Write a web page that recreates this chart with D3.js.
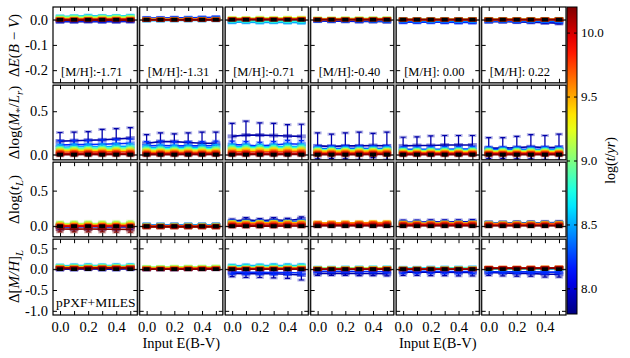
<!DOCTYPE html>
<html>
<head>
<meta charset="utf-8">
<script src="https://d3js.org/d3.v7.min.js"></script>
<style>
  body { margin: 0; background: #fff; }
  text { font-family: "Liberation Serif", "DejaVu Serif", serif; }
</style>
</head>
<body>
<div id="chart"></div>
<script>
// ages (log t/yr) of the model populations, one coloured series each
var ages = [7.9, 8.2, 8.5, 8.8, 9.1, 9.4, 9.7, 10.0, 10.2];
var ebvIn = [0, 0.1, 0.2, 0.3, 0.4, 0.5];
var mhLabels = ["[M/H]:-1.71", "[M/H]:-1.31", "[M/H]:-0.71", "[M/H]:-0.40", "[M/H]: 0.00", "[M/H]: 0.22"];
var cbTicks = [8.0, 8.5, 9.0, 9.5, 10.0];

// row 1: delta E(B-V), [column][age] -> 6 values
var dEBV = [
  [[-0.008,-0.008,-0.007,-0.008,-0.008,-0.007],[-0.005,-0.005,-0.004,-0.005,-0.005,-0.004],[0.012,0.013,0.015,0.014,0.014,0.015],
   [0.011,0.012,0.012,0.012,0.013,0.013],[0.008,0.009,0.009,0.01,0.01,0.01],[0.004,0.004,0.005,0.005,0.005,0.005],
   [0.002,0.002,0.002,0.003,0.003,0.003],[0,0,0.001,0,0.001,0.001],[-0.002,-0.002,-0.002,-0.001,-0.002,-0.002]],
  [[0.004,0.004,0.005,0.005,0.006,0.007],[0.006,0.006,0.007,0.007,0.008,0.009],[-0.004,-0.004,-0.003,-0.003,-0.003,-0.002],
   [0.002,0.002,0.002,0.003,0.003,0.003],[0.001,0.001,0.002,0.002,0.002,0.002],[0.001,0.001,0.001,0.001,0.001,0.002],
   [0,0,0,0.001,0.001,0.001],[0,0,0,0,0,0],[-0.001,-0.001,-0.001,-0.001,-0.001,-0.001]],
  [[-0.004,-0.004,-0.004,-0.005,-0.005,-0.004],[-0.008,-0.007,-0.008,-0.008,-0.009,-0.009],[-0.01,-0.01,-0.011,-0.01,-0.011,-0.012],
   [-0.005,-0.005,-0.006,-0.006,-0.006,-0.006],[0.006,0.006,0.007,0.006,0.007,0.007],[0.004,0.004,0.004,0.004,0.005,0.005],
   [0.002,0.002,0.002,0.002,0.002,0.003],[0.001,0.001,0.001,0.001,0.001,0.001],[0,0,0,0,0,0]],
  [[-0.005,-0.006,-0.006,-0.007,-0.007,-0.008],[-0.004,-0.004,-0.004,-0.005,-0.005,-0.005],[-0.002,-0.002,-0.002,-0.002,-0.003,-0.003],
   [0.002,0.002,0.002,0.002,0.003,0.003],[0.004,0.004,0.005,0.005,0.005,0.005],[0.003,0.003,0.003,0.003,0.003,0.003],
   [0.001,0.001,0.001,0.001,0.002,0.002],[0,0,0,0,0,0.001],[0,0,0,0,0,0]],
  [[-0.008,-0.008,-0.008,-0.009,-0.009,-0.009],[-0.01,-0.01,-0.01,-0.01,-0.011,-0.011],[-0.004,-0.004,-0.005,-0.004,-0.005,-0.005],
   [0.002,0.002,0.002,0.002,0.002,0.002],[0.001,0.001,0.001,0.001,0.001,0.001],[0,0,0,0.001,0.001,0.001],
   [0,0,0,0,0,0],[0,0,0,0,0,0],[0,0,0,0,0,0]],
  [[-0.008,-0.008,-0.009,-0.01,-0.012,-0.014],[-0.006,-0.006,-0.007,-0.007,-0.008,-0.009],[-0.003,-0.003,-0.003,-0.004,-0.004,-0.004],
   [0.001,0.001,0.001,0.001,0.001,0.002],[0.002,0.002,0.002,0.002,0.002,0.002],[0.001,0.001,0.001,0.001,0.001,0.001],
   [0,0,0,0,0.001,0.001],[0,0,0,0,0,0],[0,0,0,0,0,0]]
];
var dEBVerr = [0.003, 0.003, 0.003, 0.003, 0.003, 0.003];

// row 2: delta log(M*/L_r)
var dML = [
  [[0.155,0.16,0.165,0.17,0.18,0.19],[0.11,0.115,0.115,0.12,0.125,0.13],[0.085,0.09,0.09,0.09,0.095,0.095],
   [0.07,0.072,0.072,0.075,0.075,0.078],[0.058,0.06,0.06,0.062,0.062,0.064],[0.045,0.046,0.046,0.047,0.048,0.048],
   [0.03,0.03,0.031,0.031,0.032,0.032],[0.013,0.013,0.014,0.014,0.014,0.015],[0,0,0.001,0,0.001,0.001]],
  [[0.13,0.15,0.15,0.14,0.13,0.13],[0.1,0.105,0.1,0.1,0.1,0.105],[0.08,0.082,0.08,0.08,0.082,0.085],
   [0.065,0.066,0.065,0.066,0.067,0.068],[0.052,0.053,0.052,0.054,0.055,0.055],[0.04,0.04,0.041,0.041,0.042,0.042],
   [0.025,0.025,0.026,0.026,0.026,0.027],[0.01,0.01,0.011,0.011,0.011,0.012],[0,0,0,0.001,0,0.001]],
  [[0.21,0.225,0.225,0.22,0.215,0.21],[0.115,0.11,0.1,0.11,0.125,0.12],[0.09,0.092,0.088,0.09,0.095,0.094],
   [0.078,0.08,0.078,0.08,0.082,0.082],[0.065,0.066,0.064,0.066,0.068,0.067],[0.05,0.05,0.05,0.051,0.052,0.052],
   [0.032,0.032,0.032,0.033,0.034,0.034],[0.014,0.014,0.014,0.015,0.015,0.015],[0,0,0.001,0,0.001,0.001]],
  [[0.1,0.095,0.1,0.1,0.105,0.1],[0.07,0.07,0.072,0.072,0.07,0.074],[0.06,0.06,0.061,0.062,0.062,0.063],
   [0.054,0.054,0.055,0.055,0.056,0.056],[0.048,0.048,0.049,0.05,0.05,0.05],[0.038,0.038,0.039,0.039,0.04,0.04],
   [0.024,0.024,0.025,0.025,0.026,0.026],[0.01,0.01,0.01,0.011,0.011,0.011],[0,0,0,0,0.001,0.001]],
  [[0.1,0.105,0.105,0.11,0.11,0.11],[0.06,0.06,0.062,0.062,0.063,0.064],[0.05,0.05,0.051,0.052,0.052,0.053],
   [0.045,0.045,0.046,0.046,0.047,0.047],[0.04,0.04,0.04,0.041,0.041,0.042],[0.03,0.03,0.031,0.031,0.031,0.032],
   [0.02,0.02,0.02,0.021,0.021,0.021],[0.008,0.008,0.008,0.009,0.009,0.009],[0,0,0,0,0,0.001]],
  [[0.075,0.075,0.08,0.09,0.08,0.085],[0.06,0.06,0.06,0.062,0.062,0.063],[0.05,0.05,0.05,0.051,0.052,0.052],
   [0.045,0.045,0.045,0.046,0.046,0.047],[0.04,0.04,0.04,0.041,0.041,0.041],[0.03,0.03,0.03,0.031,0.031,0.031],
   [0.02,0.02,0.02,0.02,0.021,0.021],[0.008,0.008,0.008,0.008,0.009,0.009],[0,0,0,0,0,0]]
];
var dMLerr = [
  [[0.1,0.1,0.1,0.12,0.12,0.12],0.05,0.03,0.02,0.02,0.015,0.015,0.015,0.015],
  [[0.1,0.1,0.09,0.11,0.13,0.13],0.05,0.03,0.02,0.02,0.015,0.015,0.015,0.015],
  [[0.15,0.16,0.14,0.14,0.13,0.14],0.04,0.03,0.025,0.02,0.02,0.015,0.015,0.015],
  [[0.15,0.14,0.15,0.16,0.14,0.16],0.03,0.025,0.02,0.02,0.015,0.015,0.015,0.015],
  [[0.1,0.1,0.11,0.11,0.11,0.11],0.03,0.025,0.02,0.02,0.015,0.015,0.015,0.015],
  [[0.12,0.12,0.13,0.14,0.14,0.15],0.03,0.025,0.02,0.02,0.015,0.015,0.015,0.015]
];

// row 3: delta log(t_L)
var dAge = [
  [[-0.01,-0.01,-0.008,-0.01,-0.012,-0.01],[0,0,0.002,0,0,0.002],[0.01,0.01,0.012,0.01,0.01,0.012],
   [0.02,0.02,0.022,0.02,0.022,0.022],[0.035,0.036,0.038,0.036,0.038,0.04],[0.02,0.02,0.022,0.02,0.022,0.024],
   [0.01,0.01,0.01,0.012,0.012,0.012],[0,0,0,0,0.002,0.002],[-0.04,-0.042,-0.04,-0.042,-0.044,-0.045]],
  [[0.01,0.01,0.012,0.01,0.012,0.012],[0.015,0.015,0.016,0.015,0.016,0.016],[0.01,0.01,0.01,0.011,0.011,0.011],
   [0.01,0.01,0.01,0.01,0.01,0.01],[0.005,0.005,0.006,0.006,0.006,0.006],[0,0,0,0,0.001,0.001],
   [-0.01,-0.01,-0.01,-0.01,-0.011,-0.011],[0,0,0,0,0,0],[-0.01,-0.01,-0.01,-0.011,-0.01,-0.011]],
  [[0.07,0.09,0.075,0.09,0.08,0.1],[0.06,0.06,0.06,0.065,0.06,0.07],[0.05,0.05,0.05,0.052,0.05,0.055],
   [0.045,0.045,0.046,0.046,0.047,0.048],[0.05,0.05,0.05,0.051,0.052,0.052],[0.045,0.045,0.046,0.046,0.047,0.047],
   [0.035,0.035,0.035,0.036,0.036,0.037],[0.015,0.015,0.015,0.016,0.016,0.016],[0,0,0,0,0.001,0.001]],
  [[0.02,0.02,0.022,0.022,0.024,0.024],[0.025,0.025,0.026,0.026,0.027,0.028],[0.02,0.02,0.021,0.021,0.022,0.022],
   [0.03,0.03,0.03,0.031,0.031,0.032],[0.035,0.036,0.036,0.037,0.038,0.038],[0.045,0.046,0.048,0.048,0.05,0.05],
   [0.04,0.04,0.041,0.042,0.043,0.043],[0.02,0.02,0.02,0.021,0.021,0.022],[0.005,0.005,0.005,0.006,0.006,0.006]],
  [[0.055,0.055,0.06,0.058,0.06,0.062],[0.05,0.05,0.05,0.052,0.052,0.053],[0.04,0.04,0.041,0.041,0.042,0.042],
   [0.035,0.035,0.036,0.036,0.037,0.037],[0.035,0.036,0.036,0.037,0.037,0.038],[0.04,0.04,0.041,0.042,0.042,0.043],
   [0.035,0.035,0.036,0.036,0.037,0.037],[0.02,0.02,0.02,0.021,0.021,0.021],[0.005,0.005,0.005,0.005,0.006,0.006]],
  [[0.045,0.045,0.046,0.046,0.048,0.05],[0.04,0.04,0.041,0.041,0.042,0.043],[0.035,0.035,0.035,0.036,0.036,0.037],
   [0.03,0.03,0.031,0.031,0.032,0.032],[0.03,0.03,0.03,0.031,0.031,0.032],[0.035,0.035,0.036,0.036,0.037,0.038],
   [0.03,0.03,0.031,0.031,0.032,0.033],[0.015,0.015,0.015,0.016,0.016,0.016],[0.005,0.005,0.005,0.005,0.005,0.006]]
];
var dAgeErr = [
  [0.04,0.03,0.03,0.03,0.03,0.025,0.02,0.02,0.04],
  [0.02,0.02,0.02,0.02,0.02,0.02,0.02,0.02,0.02],
  [0.03,0.02,0.02,0.02,0.02,0.02,0.02,0.02,0.02],
  [0.02,0.02,0.02,0.02,0.02,0.02,0.02,0.02,0.02],
  [0.03,0.02,0.02,0.02,0.02,0.02,0.02,0.02,0.02],
  [0.02,0.02,0.02,0.02,0.02,0.02,0.02,0.02,0.02]
];

// row 4: delta [M/H]_L
var dMH = [
  [[0,0,0.01,0,0,0.01],[0.02,0.02,0.025,0.02,0.025,0.025],[0.08,0.085,0.09,0.085,0.09,0.09],
   [0.07,0.07,0.075,0.075,0.075,0.08],[0.06,0.06,0.065,0.06,0.065,0.065],[0.05,0.05,0.05,0.055,0.055,0.055],
   [0.04,0.04,0.04,0.045,0.045,0.045],[0.03,0.03,0.035,0.035,0.035,0.04],[0.02,0.02,0.02,0.025,0.025,0.025]],
  [[0,0,0,0.005,0.005,0.005],[0.01,0.01,0.01,0.015,0.015,0.015],[0.03,0.03,0.035,0.035,0.035,0.04],
   [0.045,0.045,0.045,0.05,0.05,0.05],[0.05,0.05,0.055,0.055,0.055,0.06],[0.03,0.03,0.035,0.035,0.035,0.035],
   [0.02,0.02,0.02,0.025,0.025,0.025],[0.01,0.01,0.01,0.01,0.015,0.015],[0,0,0,0,0,0.005]],
  [[-0.1,-0.11,-0.11,-0.11,-0.12,-0.14],[-0.07,-0.075,-0.075,-0.08,-0.08,-0.09],[0.08,0.085,0.085,0.09,0.09,0.09],
   [0.06,0.06,0.065,0.065,0.065,0.07],[0.04,0.04,0.045,0.045,0.045,0.05],[0.03,0.03,0.03,0.035,0.035,0.035],
   [0.02,0.02,0.02,0.02,0.025,0.025],[0.01,0.01,0.01,0.01,0.01,0.015],[0,0,0,0,0,0]],
  [[-0.1,-0.1,-0.1,-0.105,-0.105,-0.11],[-0.05,-0.05,-0.05,-0.055,-0.055,-0.06],[0.03,0.03,0.035,0.035,0.035,0.035],
   [0.03,0.03,0.03,0.03,0.035,0.035],[0.02,0.02,0.02,0.025,0.025,0.025],[0.015,0.015,0.015,0.015,0.02,0.02],
   [0.01,0.01,0.01,0.01,0.01,0.015],[0.005,0.005,0.005,0.005,0.005,0.01],[0,0,0,0,0,0]],
  [[-0.07,-0.07,-0.075,-0.075,-0.08,-0.08],[-0.05,-0.05,-0.05,-0.055,-0.055,-0.055],[0.03,0.03,0.035,0.035,0.035,0.04],
   [0.02,0.02,0.02,0.025,0.025,0.025],[0.01,0.01,0.01,0.015,0.015,0.015],[0.01,0.01,0.01,0.01,0.01,0.015],
   [0.01,0.01,0.01,0.01,0.01,0.01],[0.005,0.005,0.005,0.005,0.005,0.005],[0,0,0,0,0,0]],
  [[-0.08,-0.09,-0.1,-0.1,-0.12,-0.12],[-0.06,-0.06,-0.065,-0.065,-0.07,-0.07],[0,0,0,0.005,0.005,0.005],
   [0.01,0.01,0.01,0.01,0.015,0.015],[0.02,0.02,0.02,0.02,0.025,0.025],[0.03,0.03,0.03,0.03,0.035,0.035],
   [0.03,0.03,0.03,0.035,0.035,0.035],[0.03,0.03,0.03,0.03,0.03,0.035],[0.02,0.02,0.02,0.02,0.02,0.025]]
];
var dMHerr = [
  [0.03,0.03,0.03,0.03,0.02,0.02,0.02,0.02,0.02],
  [0.02,0.02,0.02,0.02,0.02,0.02,0.02,0.02,0.02],
  [[0.08,0.09,0.09,0.1,0.1,0.12],0.05,0.03,0.03,0.02,0.02,0.02,0.02,0.02],
  [0.05,0.03,0.02,0.02,0.02,0.02,0.02,0.02,0.02],
  [0.08,0.05,0.02,0.02,0.02,0.02,0.02,0.02,0.02],
  [0.07,0.04,0.02,0.02,0.02,0.02,0.02,0.02,0.02]
];

var yTicks = [[0, -0.1, -0.2], [0, 0.5], [0, 0.5], [0.5, 0, -0.5, -1.0]];

// layout (plotTop etc: "top" is taken by window.top)
var W = 630, H = 358;
var plotLeft = 53, plotRight = 566, plotTop = 7, plotBottom = 315;
var nCols = 6, nRows = 4;
var cw = (plotRight - plotLeft) / nCols, rh = (plotBottom - plotTop) / nRows;
var yDomains = [[-0.25, 0.05], [-0.06, 0.8], [-0.15, 0.9], [-1.1, 0.72]];
var ageDomain = [7.8, 10.2];

var rowVals = [dEBV, dML, dAge, dMH];
function rowErr(r, c, a) {
  var e;
  if (r == 0) e = dEBVerr[c];
  if (r == 1) e = dMLerr[c][a];
  if (r == 2) e = dAgeErr[c][a];
  if (r == 3) e = dMHerr[c][a];
  return e;
}

// matplotlib-like jet
function jet(t) {
  function cl(v) { return Math.max(0, Math.min(1, v)); }
  var r = cl(1.5 - Math.abs(4 * t - 3)),
      g = cl(1.5 - Math.abs(4 * t - 2)),
      b = cl(1.5 - Math.abs(4 * t - 1));
  return d3.rgb(r * 255, g * 255, b * 255).formatHex();
}
var ageNorm = d3.scaleLinear().domain(ageDomain).range([0, 1]);
function ageColor(a) { return jet(ageNorm(a)); }

var svg = d3.select("#chart").append("svg")
    .attr("width", W)
    .attr("height", H);

var defs = svg.append("defs");

// gray seams between panels
for (var c = 1; c < nCols; c++) {
  svg.append("line")
    .attr("x1", plotLeft + c * cw).attr("x2", plotLeft + c * cw)
    .attr("y1", plotTop).attr("y2", plotBottom)
    .attr("stroke", "#aaa").attr("stroke-width", 1.2);
}
for (var r = 1; r < nRows; r++) {
  svg.append("line")
    .attr("x1", plotLeft).attr("x2", plotRight)
    .attr("y1", plotTop + r * rh).attr("y2", plotTop + r * rh)
    .attr("stroke", "#aaa").attr("stroke-width", 1.2);
}

function tickFmt(d) { return d.toFixed(1); }

function drawPanel(r, c) {
  var px0 = plotLeft + c * cw + (c > 0 ? 1.2 : 0),
      px1 = plotLeft + (c + 1) * cw - (c < nCols - 1 ? 1.2 : 0),
      py0 = plotTop + r * rh + (r > 0 ? 1.2 : 0),
      py1 = plotTop + (r + 1) * rh - (r < nRows - 1 ? 1.2 : 0);

  var x = d3.scaleLinear().domain([-0.05, 0.55]).range([px0, px1]);
  var y = d3.scaleLinear().domain(yDomains[r]).range([py1, py0]);

  var clipId = "clip" + r + "_" + c;
  defs.append("clipPath").attr("id", clipId)
    .append("rect").attr("x", px0).attr("y", py0)
    .attr("width", px1 - px0).attr("height", py1 - py0);

  var g = svg.append("g");
  g.append("rect")
    .attr("x", px0).attr("y", py0)
    .attr("width", px1 - px0).attr("height", py1 - py0)
    .attr("fill", "#fff");

  var plot = g.append("g").attr("clip-path", "url(#" + clipId + ")");

  // zero line
  plot.append("line")
    .attr("x1", px0).attr("x2", px1)
    .attr("y1", y(0)).attr("y2", y(0))
    .attr("stroke", "#999").attr("stroke-width", 1);

  var line = d3.line()
    .x(function(d, i) { return x(ebvIn[i]); })
    .y(function(d) { return y(d); });

  var vals = rowVals[r][c];
  for (var a = 0; a < ages.length; a++) {
    var col = ageColor(ages[a]);
    var v = vals[a];
    var e = rowErr(r, c, a);
    var pts = v.map(function(d, i) {
      return {x: ebvIn[i], y: d, e: (typeof e === "number") ? e : e[i]};
    });
    var both = pts.map(function(d) { return {x: d.x, y: d.y + d.e}; })
      .concat(pts.map(function(d) { return {x: d.x, y: d.y - d.e}; }));
    var s = plot.append("g");

    // faint wide markers
    s.selectAll("rect.m").data(pts).enter().append("rect")
      .attr("x", function(d) { return x(d.x) - 4.5; })
      .attr("y", function(d) { return y(d.y) - 2; })
      .attr("width", 9).attr("height", 4)
      .attr("fill", col).attr("opacity", 0.45);

    // faint wide caps
    s.selectAll("rect.c").data(both).enter().append("rect")
      .attr("x", function(d) { return x(d.x) - 4; })
      .attr("y", function(d) { return y(d.y) - 1.5; })
      .attr("width", 8).attr("height", 3)
      .attr("fill", col).attr("opacity", 0.3);

    // error bars
    s.selectAll("line.eb").data(pts).enter().append("line")
      .attr("x1", function(d) { return x(d.x); })
      .attr("x2", function(d) { return x(d.x); })
      .attr("y1", function(d) { return y(d.y - d.e); })
      .attr("y2", function(d) { return y(d.y + d.e); })
      .attr("stroke", col).attr("stroke-width", 1.3);

    s.selectAll("line.cap").data(both).enter().append("line")
      .attr("x1", function(d) { return x(d.x) - 2.5; })
      .attr("x2", function(d) { return x(d.x) + 2.5; })
      .attr("y1", function(d) { return y(d.y); })
      .attr("y2", function(d) { return y(d.y); })
      .attr("stroke", col).attr("stroke-width", 1.2);

    s.append("path")
      .datum(v)
      .attr("fill", "none")
      .attr("stroke", col)
      .attr("stroke-width", 1.6)
      .attr("d", line);
  }

  // input (true) values in black
  plot.selectAll("rect.true").data(ebvIn).enter().append("rect")
    .attr("x", function(d) { return x(d) - 3; })
    .attr("y", y(0) - 1.8)
    .attr("width", 6).attr("height", 3.6)
    .attr("fill", "#000");

  // frame
  g.append("rect")
    .attr("x", px0).attr("y", py0)
    .attr("width", px1 - px0).attr("height", py1 - py0)
    .attr("fill", "none").attr("stroke", "#000").attr("stroke-width", 1.2);

  // ticks, pointing inwards on all four sides
  var xb = d3.axisBottom(x).tickValues(ebvIn).tickSize(-4).tickPadding(7)
    .tickFormat(function(d, i) { return (r == nRows - 1 && i % 2 == 0) ? tickFmt(d) : ""; });
  var xt = d3.axisTop(x).tickValues(ebvIn).tickSize(-4).tickFormat("");
  var yl = d3.axisLeft(y).tickValues(yTicks[r]).tickSize(-4).tickPadding(5)
    .tickFormat(function(d) { return c == 0 ? tickFmt(d) : ""; });
  var yr = d3.axisRight(y).tickValues(yTicks[r]).tickSize(-4).tickFormat("");

  var axes = [
    g.append("g").attr("transform", "translate(0," + py1 + ")").call(xb),
    g.append("g").attr("transform", "translate(0," + py0 + ")").call(xt),
    g.append("g").attr("transform", "translate(" + px0 + ",0)").call(yl),
    g.append("g").attr("transform", "translate(" + px1 + ",0)").call(yr)
  ];
  axes.forEach(function(ax) {
    ax.select(".domain").remove();
    ax.selectAll("line").attr("stroke", "#000").attr("stroke-width", 1);
    ax.selectAll("text")
      .attr("fill", "#000")
      .style("font-family", '"Liberation Serif", "DejaVu Serif", serif')
      .style("font-size", "14.5px");
  });

  if (r == 0) {
    g.append("text")
      .attr("x", px0 + 8).attr("y", py1 - 7)
      .style("font-size", "12.5px")
      .text(mhLabels[c]);
  }
  if (r == nRows - 1 && c == 0) {
    g.append("text")
      .attr("x", px0 + 3).attr("y", py1 - 8)
      .style("font-size", "13.5px")
      .text("pPXF+MILES");
  }
}

for (var r = 0; r < nRows; r++) {
  for (var c = 0; c < nCols; c++) {
    drawPanel(r, c);
  }
}

// math-ish labels: parts are [text, style] with i = italic, s = subscript
function mathText(sel, parts) {
  var shifted = false;
  parts.forEach(function(p) {
    var t = sel.append("tspan").text(p[0]);
    var sub = p[1].indexOf("s") >= 0;
    if (p[1].indexOf("i") >= 0) t.attr("font-style", "italic");
    if (sub) {
      t.attr("font-size", "0.72em");
      if (!shifted) { t.attr("dy", 4); shifted = true; }
    } else if (shifted) {
      t.attr("dy", -4); shifted = false;
    }
  });
}

var yLabels = [
  [["\u0394", ""], ["E", "i"], ["(", ""], ["B", "i"], [" \u2212 ", ""], ["V", "i"], [")", ""]],
  [["\u0394log(", ""], ["M", "i"], ["*", "s"], ["/", ""], ["L", "i"], ["r", "si"], [")", ""]],
  [["\u0394log(", ""], ["t", "i"], ["L", "si"], [")", ""]],
  [["\u0394[", ""], ["M/H", "i"], ["]", ""], ["L", "si"]]
];
yLabels.forEach(function(parts, r) {
  var cy = plotTop + (r + 0.5) * rh;
  var t = svg.append("text")
    .attr("transform", "translate(19," + cy + ") rotate(-90)")
    .attr("text-anchor", "middle")
    .style("font-size", "15px");
  mathText(t, parts);
});

// x labels under columns 2 and 5
[1, 4].forEach(function(c) {
  svg.append("text")
    .attr("x", plotLeft + (c + 0.5) * cw)
    .attr("y", 348)
    .attr("text-anchor", "middle")
    .style("font-size", "14.5px")
    .text("Input E(B-V)");
});

// colour bar
var cbX = 567, cbW = 10, cbTop = 7, cbBot = 314;
var grad = defs.append("linearGradient").attr("id", "jetgrad")
  .attr("x1", 0).attr("y1", 1).attr("x2", 0).attr("y2", 0);
d3.range(0, 1.0001, 0.05).forEach(function(t) {
  grad.append("stop").attr("offset", t).attr("stop-color", jet(t));
});
svg.append("rect")
  .attr("x", cbX).attr("y", cbTop)
  .attr("width", cbW).attr("height", cbBot - cbTop)
  .attr("fill", "url(#jetgrad)")
  .attr("stroke", "#000").attr("stroke-width", 1);

var cy = d3.scaleLinear().domain(ageDomain).range([cbBot, cbTop]);
var cbAxis = svg.append("g")
  .attr("transform", "translate(" + (cbX + cbW) + ",0)")
  .call(d3.axisRight(cy).tickValues(cbTicks).tickSize(-3).tickPadding(4).tickFormat(tickFmt));
cbAxis.select(".domain").remove();
cbAxis.selectAll("line").attr("stroke", "#000");
cbAxis.selectAll("text")
  .attr("fill", "#000")
  .style("font-family", '"Liberation Serif", "DejaVu Serif", serif')
  .style("font-size", "13px");
var cbAxisL = svg.append("g")
  .attr("transform", "translate(" + cbX + ",0)")
  .call(d3.axisLeft(cy).tickValues(cbTicks).tickSize(-3).tickFormat(""));
cbAxisL.select(".domain").remove();
cbAxisL.selectAll("line").attr("stroke", "#000");

var cbLabel = svg.append("text")
  .attr("transform", "translate(615," + ((cbTop + cbBot) / 2) + ") rotate(-90)")
  .attr("text-anchor", "middle")
  .style("font-size", "14px");
mathText(cbLabel, [["log(", ""], ["t", "i"], ["/", ""], ["yr", "i"], [")", ""]]);
</script>
</body>
</html>
